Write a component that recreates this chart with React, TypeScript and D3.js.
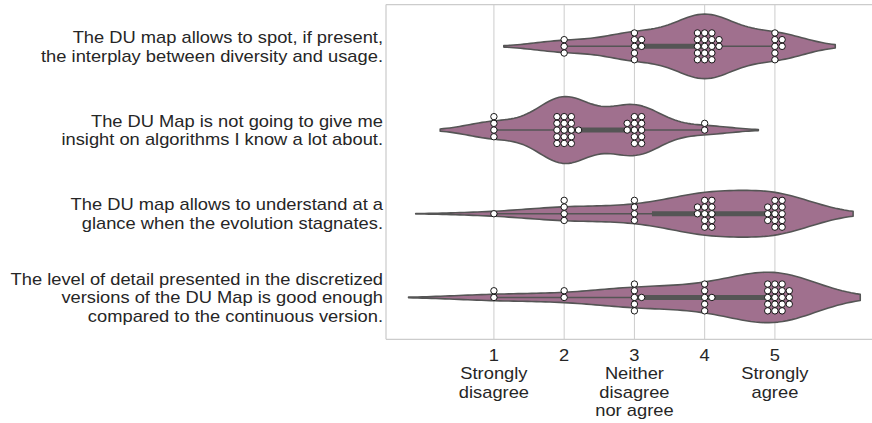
import React from 'react';
import * as d3 from 'd3';

// Likert answers (1..5) of 34 participants, counts per answer for each statement
const statements = [
  ['The DU map allows to spot, if present,', 'the interplay between diversity and usage.'],
  ['The DU Map is not going to give me', 'insight on algorithms I know a lot about.'],
  ['The DU map allows to understand at a', 'glance when the evolution stagnates.'],
  ['The level of detail presented in the discretized', 'versions of the DU Map is good enough', 'compared to the continuous version.'],
];
const levels = [1, 2, 3, 4, 5];
const countsDiversity = [0, 3, 7, 17, 7];
const countsInsight = [4, 16, 12, 2, 0];
const countsStagnation = [1, 4, 4, 12, 13];
const countsDetail = [2, 2, 6, 6, 18];
const allCounts = [countsDiversity, countsInsight, countsStagnation, countsDetail];
const tickLabels = [
  ['1', 'Strongly', 'disagree'],
  ['2'],
  ['3', 'Neither', 'disagree', 'nor agree'],
  ['4'],
  ['5', 'Strongly', 'agree'],
];

const W = 872;
const H = 423;
const margin = { top: 4.5, bottom: 83.7, left: 386 };
const FILL = '#a0708e';
const LINE = '#555555';
const GRID = '#cccccc';
const TEXT = '#262626';
const FONT = '"Liberation Sans", Arial, sans-serif';
const TEXT_STRETCH = 1.145; // reference glyphs are wider than they are tall

const expand = (counts: number[]) =>
  counts.flatMap((c, i) => d3.range(c).map(() => levels[i]));

// gaussian KDE, scott bandwidth, cut = 2 (seaborn defaults)
function kde(values: number[]) {
  const n = values.length;
  const bw = Math.pow(n, -0.2) * (d3.deviation(values) as number);
  const lo = (d3.min(values) as number) - 2 * bw;
  const hi = (d3.max(values) as number) + 2 * bw;
  const grid = d3.range(100).map((i) => lo + ((hi - lo) * i) / 99);
  const pts = grid.map((g) => {
    let s = 0;
    for (const v of values) {
      const z = (g - v) / bw;
      s += Math.exp(-0.5 * z * z);
    }
    return [g, s / (n * bw * Math.sqrt(2 * Math.PI))] as [number, number];
  });
  return { bw, lo, hi, pts };
}

function Label({ x, y, anchor, text }: { x: number; y: number; anchor: string; text: string }) {
  return (
    <text
      transform={`translate(${x},${y}) scale(${TEXT_STRETCH},1)`}
      textAnchor={anchor}
      fontFamily={FONT}
      fontSize={16}
      fill={TEXT}
    >
      {text}
    </text>
  );
}

export default function App() {
  const rows = allCounts.map((c) => {
    const vals = expand(c);
    const sorted = vals.slice().sort((a, b) => a - b);
    const q1 = d3.quantileSorted(sorted, 0.25) as number;
    const q3 = d3.quantileSorted(sorted, 0.75) as number;
    const med = d3.quantileSorted(sorted, 0.5) as number;
    const iqr = q3 - q1;
    const wLo = Math.max(sorted[0], q1 - 1.5 * iqr);
    const wHi = Math.min(sorted[sorted.length - 1], q3 + 1.5 * iqr);
    return { counts: c, k: kde(vals), q1, q3, med, wLo, wHi };
  });

  const dLo = d3.min(rows, (r) => r.k.lo) as number;
  const dHi = d3.max(rows, (r) => r.k.hi) as number;
  const pad = (dHi - dLo) * 0.05;
  // px per unit: 70.25
  const span = (dHi - dLo + 2 * pad) * 70.25;
  const x = d3
    .scaleLinear()
    .domain([dLo - pad, dHi + pad])
    .range([margin.left, margin.left + span]);

  const y = d3
    .scaleBand<number>()
    .domain(d3.range(statements.length))
    .range([margin.top, H - margin.bottom])
    .padding(0);
  const band = y.bandwidth();
  const globalMax = d3.max(rows, (r) => d3.max(r.k.pts, (p) => p[1]) as number) as number;
  const wScale = (0.4 * band) / globalMax;

  const plotRight = x.range()[1];
  const plotBottom = H - margin.bottom;

  const dxStep = 7.2;
  const dyStep = 6.7;
  const colOrder = [0, 1, -1, 2, -2, 3, -3];

  return (
    <svg width={W} height={H} style={{ position: 'absolute', left: 0, top: 0, background: '#fff' }}>
      <rect x={0} y={0} width={W} height={H} fill="#fff" />
      {/* grid */}
      {levels.map((l) => (
        <line key={l} x1={x(l)} x2={x(l)} y1={margin.top} y2={plotBottom} stroke={GRID} strokeWidth={1} />
      ))}
      {/* frame (right spine falls outside the picture) */}
      <line x1={margin.left} x2={plotRight} y1={margin.top} y2={margin.top} stroke={GRID} strokeWidth={1.25} />
      <line x1={margin.left} x2={plotRight} y1={plotBottom} y2={plotBottom} stroke={GRID} strokeWidth={1.25} />
      <line x1={margin.left} x2={margin.left} y1={margin.top} y2={plotBottom} stroke={GRID} strokeWidth={1.25} />
      {rows.map((r, i) => {
        const cy = (y(i) as number) + band / 2;
        const area = d3
          .area<[number, number]>()
          .x((p) => x(p[0]))
          .y0((p) => cy - p[1] * wScale)
          .y1((p) => cy + p[1] * wScale);
        const path = area(r.k.pts) as string;
        const dots: { cx: number; cy: number }[] = [];
        r.counts.forEach((c, li) => {
          let left = c;
          let ci = 0;
          while (left > 0) {
            const m = Math.min(5, left);
            for (let j = 0; j < m; j++) {
              dots.push({
                cx: x(levels[li]) + colOrder[ci] * dxStep,
                cy: cy + (j - Math.floor(m / 2)) * dyStep,
              });
            }
            left -= m;
            ci++;
          }
        });
        return (
          <g key={i}>
            <path d={path + 'Z'} fill={FILL} stroke={LINE} strokeWidth={1.6} strokeLinejoin="round" />
            <line x1={x(r.wLo)} x2={x(r.wHi)} y1={cy} y2={cy} stroke={LINE} strokeWidth={1.5} />
            <line x1={x(r.q1)} x2={x(r.q3)} y1={cy} y2={cy} stroke={LINE} strokeWidth={5} />
            <circle cx={x(r.med)} cy={cy} r={3} fill="#fff" />
            {dots.map((d, j) => (
              <circle key={j} cx={d.cx} cy={d.cy} r={3.2} fill="#fff" stroke="#000" strokeWidth={0.9} />
            ))}
            {statements[i].map((t, j) => (
              <Label
                key={j}
                x={margin.left - 3}
                y={cy + (j - (statements[i].length - 1) / 2) * 18.6 + 6}
                anchor="end"
                text={t}
              />
            ))}
          </g>
        );
      })}
      {/* x tick labels */}
      {tickLabels.map((lines, i) =>
        lines.map((t, j) => (
          <Label key={`${i}-${j}`} x={x(levels[i])} y={plotBottom + 21.4 + j * 18.5} anchor="middle" text={t} />
        ))
      )}
    </svg>
  );
}
